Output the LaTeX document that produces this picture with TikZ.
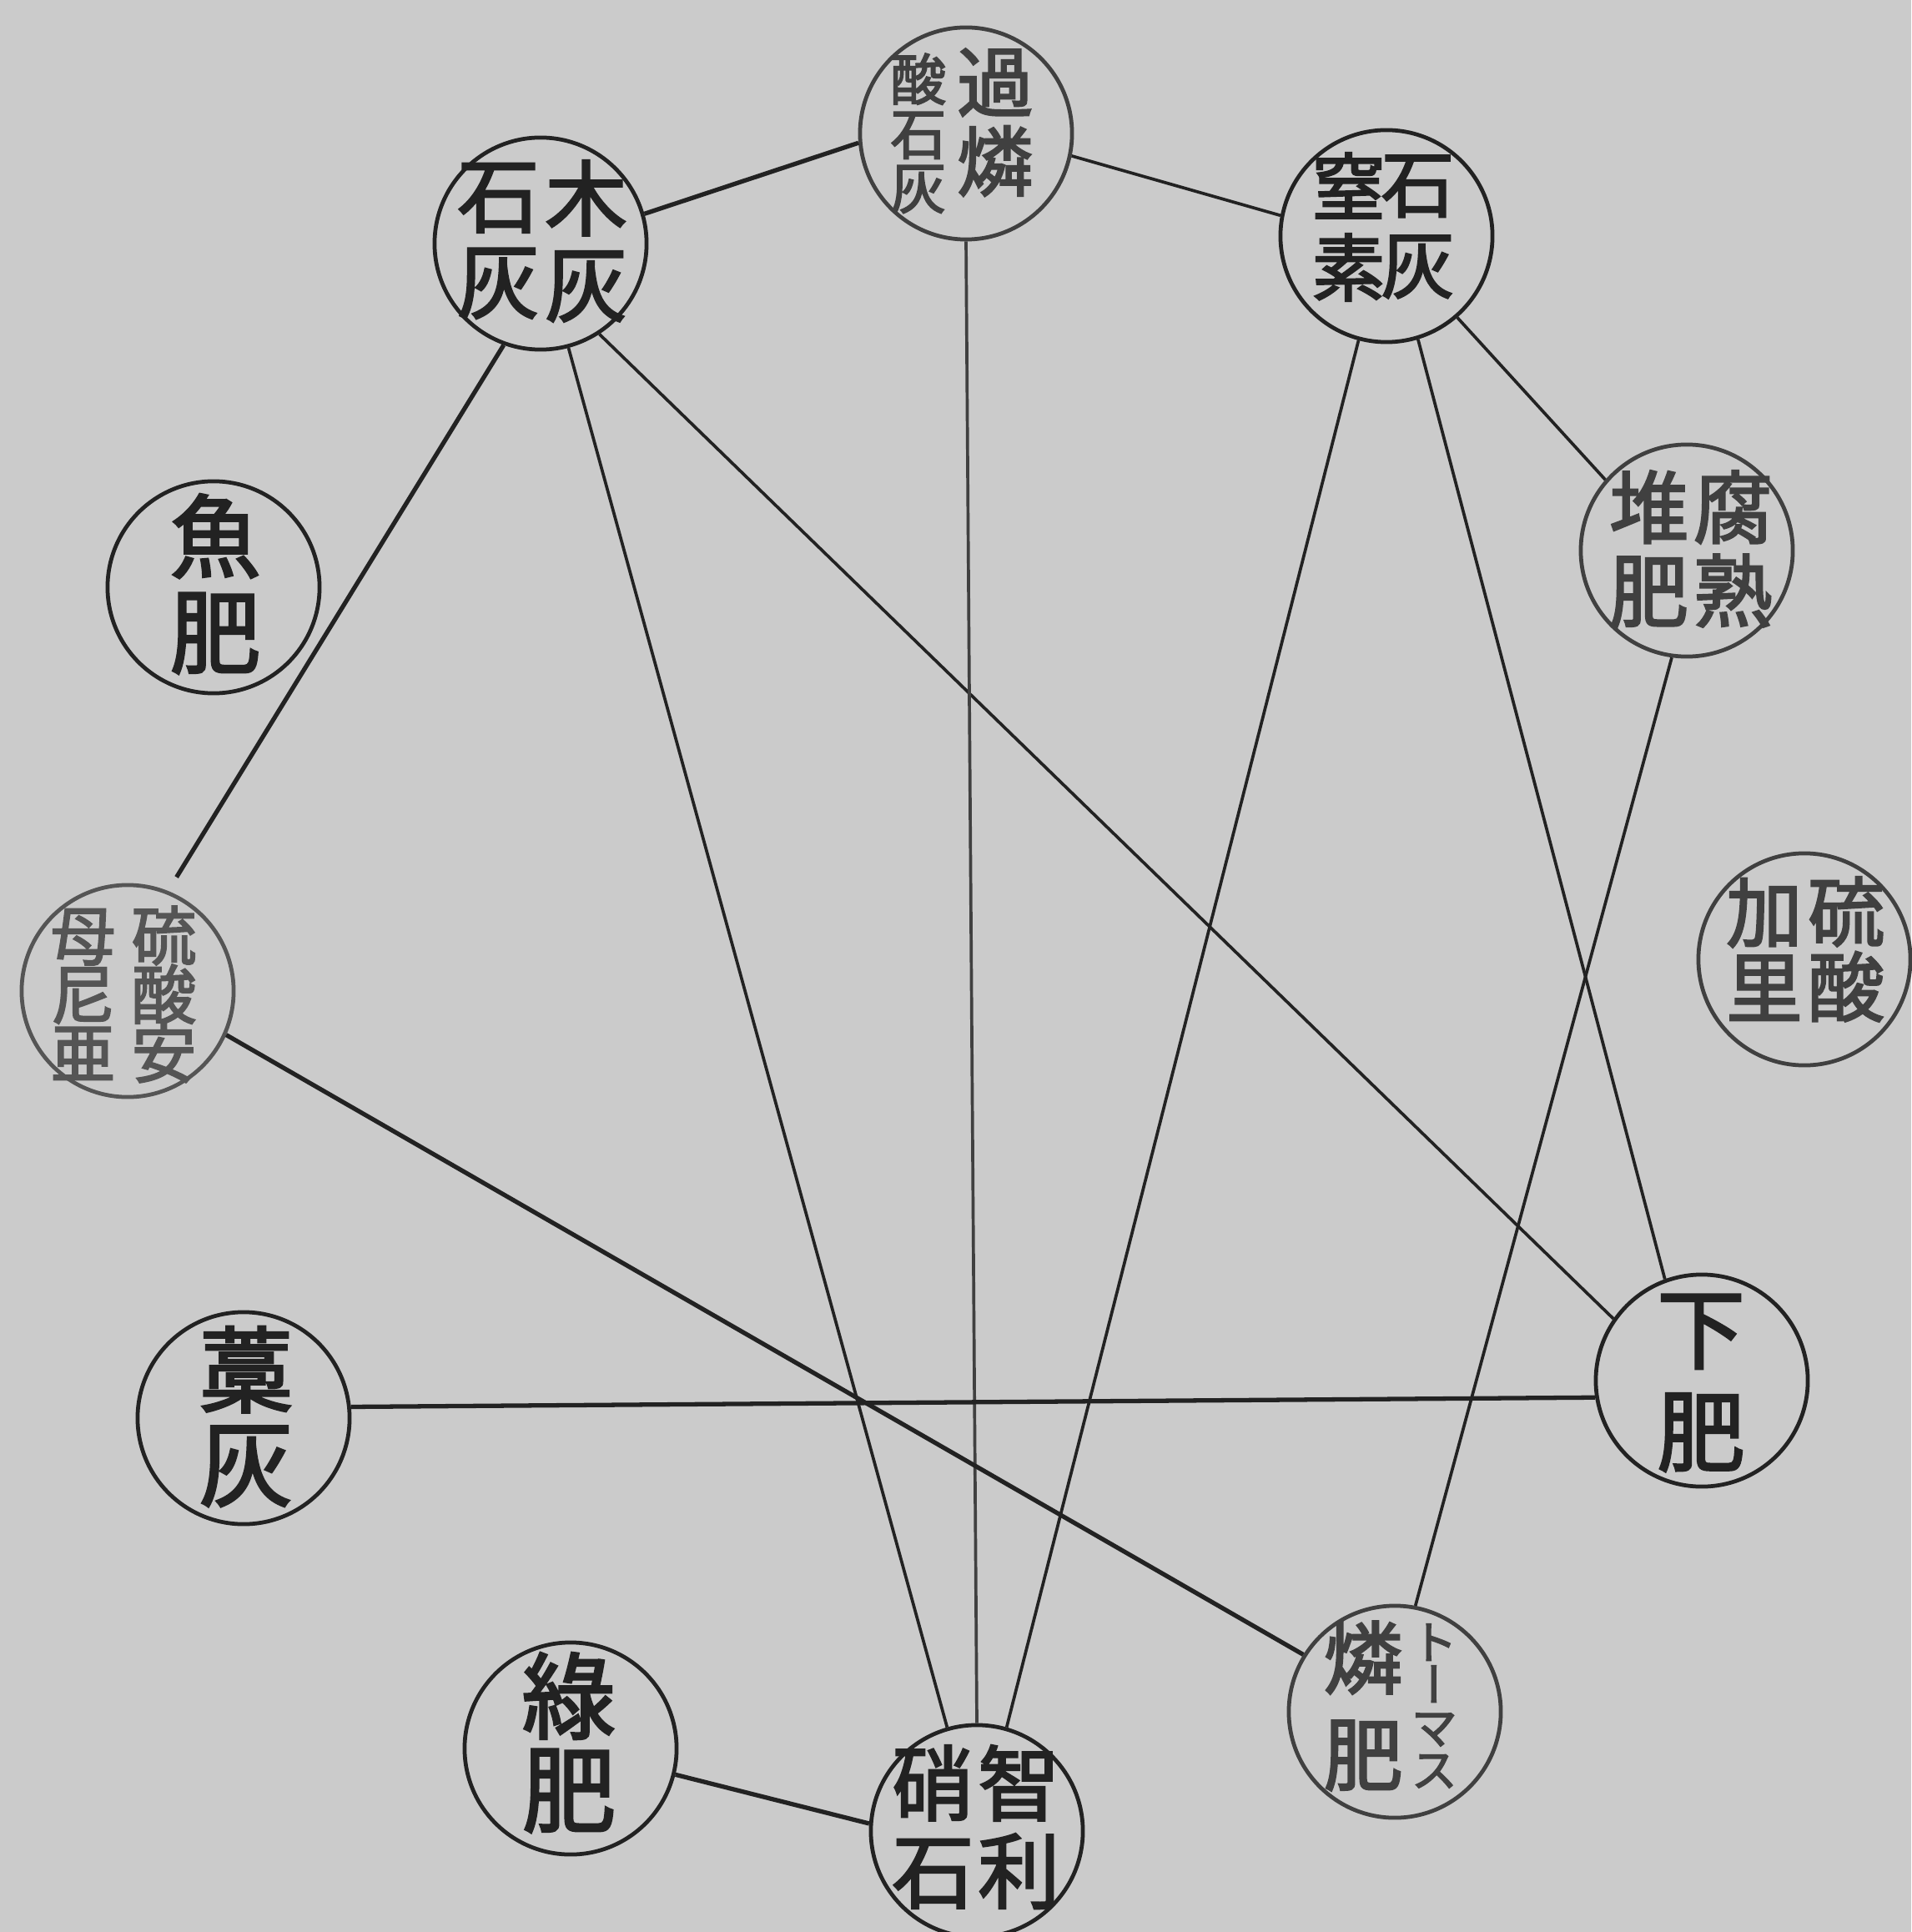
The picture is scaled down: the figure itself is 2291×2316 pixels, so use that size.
\documentclass[tikz,border=0pt]{standalone}
\usepackage{fontspec}
\newfontfamily\cjk{Noto Sans CJK JP}[FakeBold=2.5]
\newfontfamily\cjkv{Noto Sans CJK JP}[FakeBold=2.5,RawFeature=+vert]
\definecolor{paper}{HTML}{CBCBCB}
\definecolor{inkA}{HTML}{222222}
\definecolor{inkB}{HTML}{404040}
\definecolor{inkC}{HTML}{555555}
\newcommand{\vcol}[3]{$\vcenter{\fontsize{#1}{#2}\selectfont\lineskiplimit=-\maxdimen\lineskip=0pt\halign{\hfil##\hfil\cr#3\crcr}}$}
\tikzset{
  fert/.style={circle, draw=inkA, line width=1.35pt, minimum size=2.54cm, inner sep=0pt},
  lightc/.style={draw=inkB},
  lighterc/.style={draw=inkC},
  lab/.style={inner sep=0pt, font=\cjk, text=inkA},
  labB/.style={lab, text=inkB},
  labC/.style={lab, text=inkC},
  thinline/.style={draw=inkA, line width=1.05pt},
  thickline/.style={draw=inkA, line width=1.5pt},
}
\begin{document}
\begin{tikzpicture}[x=0.01cm, y=-0.01cm]
\fill[paper] (0,0) rectangle (2291,2316);
\useasboundingbox (0,0) rectangle (2291,2316);

% circles
\node[fert] (mokkai) at (648,292) {};
\node[fert, lightc] (karin) at (1158,160) {};
\node[fert] (chisso) at (1662,283) {};
\node[fert, lightc] (taihi) at (2022,660) {};
\node[fert, lightc] (kari) at (2163,1150) {};
\node[fert] (shimo) at (2040,1655) {};
\node[fert, lightc] (thomas) at (1672,2052) {};
\node[fert] (chiri) at (1171,2195) {};
\node[fert] (ryokuhi) at (684,2096) {};
\node[fert] (warabai) at (292,1700) {};
\node[fert, lighterc] (ryuan) at (153,1188) {};
\node[fert] (gyohi) at (256,704) {};

% texts
\node[lab, shift={(2,-3)}] (mokkai-t) at (mokkai) {\vcol{28}{29.3}{石\cr 灰}\hspace{1.9pt}\vcol{28}{29.3}{木\cr 灰}};
\node[labB, shift={(-5,-3)}] (karin-t) at (karin) {\raisebox{-3.7pt}{\vcol{19}{18.5}{酸\cr 石\cr 灰}}\hspace{3.7pt}\vcol{26}{27}{過\cr 燐}};
\node[lab, shift={(-4,-11)}] (chisso-t) at (chisso) {\vcol{25}{27.6}{窒\cr 素}\hspace{-1.4pt}\vcol{25}{27.6}{石\cr 灰}};
\node[labB, shift={(5,-2)}] (taihi-t) at (taihi) {\vcol{27}{28.5}{堆\cr 肥}\hspace{1.7pt}\vcol{27}{28.5}{腐\cr 熟}};
\node[labB, shift={(1,-12)}] (kari-t) at (kari) {\vcol{26}{25.6}{加\cr 里}\hspace{1.9pt}\vcol{26}{25.6}{硫\cr 酸}};
\node[lab, shift={(-1,3)}] (shimo-t) at (shimo) {\vcol{30}{35}{下\cr 肥}};
\node[labB, shift={(-5,-7)}] (thomas-t) at (thomas) {\vcol{27}{33}{燐\cr 肥}\hspace{2.7pt}{\cjkv\vcol{16}{14.5}{ト\cr ー\cr マ\cr ス}}};
\node[lab, shift={(-1,-5)}] (chiri-t) at (chiri) {\vcol{28}{29.9}{硝\cr 石}\hspace{1.3pt}\vcol{28}{29.9}{智\cr 利}};
\node[lab, shift={(-2,-7)}] (ryokuhi-t) at (ryokuhi) {\vcol{32}{31.9}{綠\cr 肥}};
\node[lab, shift={(3,-2)}] (warabai-t) at (warabai) {\vcol{32}{32}{藁\cr 灰}};
\node[labC, shift={(-5,4)}] (ryuan-t) at (ryuan) {\vcol{22}{20}{母\cr 尼\cr 亜}\hspace{5.6pt}\vcol{22}{20}{硫\cr 酸\cr 安}};
\node[lab, shift={(2,-4)}] (gyohi-t) at (gyohi) {\vcol{31}{32.7}{魚\cr 肥}};

% connectors
\draw[thickline] (mokkai.16) -- (karin.185);
\draw[thinline] (karin.-12) -- (chisso.169);
\draw[thinline] (chisso.-49) -- (taihi.139);
\draw[thickline, shorten >=5.5pt] (mokkai.-110) -- (ryuan.68);
\draw[thinline] (mokkai.-75) -- (chiri.106);
\draw[thinline] (mokkai.-57) -- (shimo.145);
\draw[thinline, draw=inkB] (karin.-90) -- (chiri.90);
\draw[thinline] (chisso.-105) -- (chiri.74);
\draw[thinline] (chisso.-73) -- (shimo.110);
\draw[thinline] (taihi.-98) -- (thomas.79);
\draw[thickline] (ryuan.-24) -- (thomas.148);
\draw[thickline] (warabai.6) -- (shimo.189);
\draw[thickline] (ryokuhi.-14) -- (chiri.176);
\end{tikzpicture}
\end{document}
